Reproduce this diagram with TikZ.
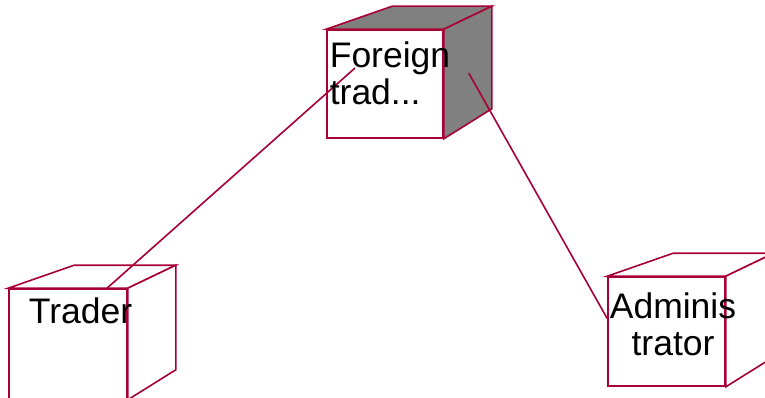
\documentclass[tikz,border=0pt]{standalone}
\usepackage{fontspec}
\setmainfont{Liberation Sans}
\usetikzlibrary{calc}
\definecolor{umlred}{HTML}{A80036}
\definecolor{umlgray}{HTML}{808080}
\tikzset{
  edge/.style={draw=umlred, line width=1.6pt, line join=miter},
  face/.style={edge, fill=white, inner sep=0pt},
  lbl/.style={inner sep=0pt, anchor=north, align=center,
    font=\fontsize{35.5}{37}\selectfont},
}
% top and right faces of a cube drawn behind a front face node
\newcommand{\drawcube}[2]{%
  \draw[edge, fill=#2] (#1.north west) -- ++(66,-23)
    -- ($(#1.north east)+(48,-23)$) -- (#1.north east) -- cycle;
  \draw[edge, fill=#2] (#1.north east) -- ++(48,-23)
    -- ($(#1.south east)+(48,-30)$) -- (#1.south east) -- cycle;
}

\begin{document}
\begin{tikzpicture}[x=1pt, y=-1pt]
  \useasboundingbox (0,0) rectangle (765,398);
  \clip (0,0) rectangle (765,398);
  % front faces
  \node[face, minimum width=116pt, minimum height=108pt] (foreign) at (385,84) {};
  \node[face, minimum width=118pt, minimum height=110pt] (trader) at (68,344) {};
  \node[face, minimum width=117pt, minimum height=109pt] (admin) at (666.5,331.5) {};
  \drawcube{foreign}{umlgray}
  \drawcube{trader}{white}
  \drawcube{admin}{white}
  % links
  \coordinate (tradertop) at ($(trader.north)+(39,0)$);
  \coordinate (foreignin) at ($(foreign.center)+(-30,-16)$);
  \coordinate (foreignside) at ($(foreign.north east)+(25,44)$);
  \coordinate (adminleft) at ($(admin.west)+(0,-13)$);
  \draw[edge] (tradertop) -- (foreignin);
  \draw[edge] (foreignside) -- (adminleft);
  % names
  \node[lbl, align=left] (foreignname) at ($(foreign.north)+(5,12)$) {Foreign\\trad...};
  \node[lbl] (tradername) at ($(trader.north)+(12.5,9)$) {Trader};
  \node[lbl] (adminname) at ($(admin.north)+(6.5,16)$) {Adminis\\trator};
\end{tikzpicture}
\end{document}
